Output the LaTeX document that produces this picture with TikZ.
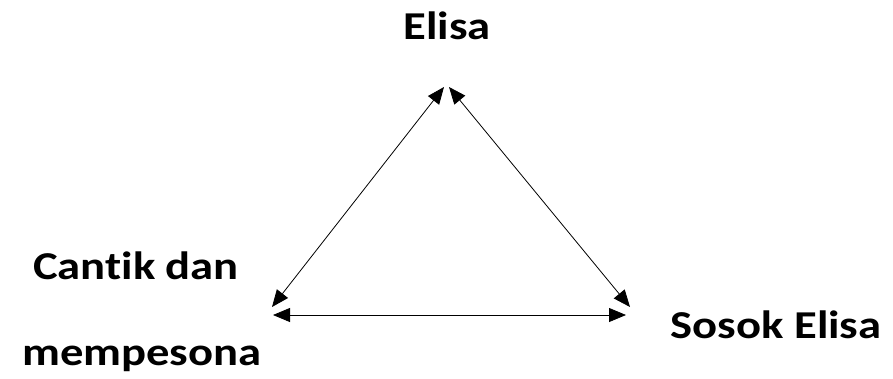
\documentclass[tikz,border=0pt]{standalone}
\usepackage{fontspec}
\setmainfont{Carlito}[Ligatures=NoCommon]
\usetikzlibrary{arrows.meta}
\tikzset{
  lbl/.style={inner sep=0pt, anchor=base, font=\fontsize{39.5}{47}\selectfont\bfseries},
  conn/.style={line width=0.8pt, {Triangle[length=17pt,width=14pt]}-{Triangle[length=17pt,width=14pt]}}
}
\newcommand{\wide}[1]{\scalebox{1.18}[1]{#1}}
\begin{document}
\begin{tikzpicture}[x=1pt,y=-1pt]
\useasboundingbox (0,0) rectangle (893,378);
\node[lbl] (elisa) at (447,39) {\wide{Elisa}};
\node[lbl] (cantik) at (136,279) {\wide{Cantik dan}};
\node[lbl] (mempesona) at (142,365) {\wide{mempesona}};
\node[lbl] (sosok) at (776,338) {\wide{Sosok Elisa}};
\coordinate (tl) at (444,87);
\coordinate (tr) at (449,87);
\coordinate (bl) at (272,307);
\coordinate (br) at (630,307);
\coordinate (hl) at (273,315);
\coordinate (hr) at (626,315);
\draw[conn] (tl) -- (bl);
\draw[conn] (tr) -- (br);
\draw[conn] (hl) -- (hr);
\end{tikzpicture}
\end{document}
